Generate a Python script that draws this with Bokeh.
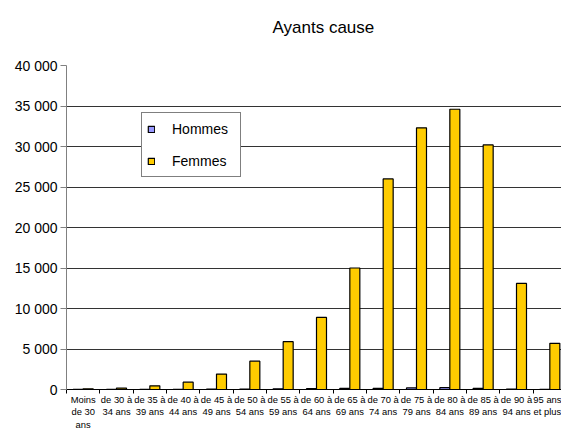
from bokeh.plotting import figure
from bokeh.models import Range1d, FixedTicker, ColumnDataSource, Legend, LegendItem, Title
from bokeh.transform import dodge
from bokeh.embed import file_html
from bokeh.resources import INLINE

title_text = "Ayants cause"
categories = ["Moins\nde 30\nans", "de 30 à\n34 ans", "de 35 à\n39 ans", "de 40 à\n44 ans",
              "de 45 à\n49 ans", "de 50 à\n54 ans", "de 55 à\n59 ans", "de 60 à\n64 ans",
              "de 65 à\n69 ans", "de 70 à\n74 ans", "de 75 à\n79 ans", "de 80 à\n84 ans",
              "de 85 à\n89 ans", "de 90 à\n94 ans", "95 ans\net plus"]
hommes = [5, 10, 15, 25, 40, 60, 80, 100, 130, 150, 200, 220, 150, 60, 20]
femmes = [80, 180, 450, 900, 1900, 3500, 5900, 8900, 15000, 26000, 32300, 34600, 30200, 13100, 5700]
y_ticks = [0, 5000, 10000, 15000, 20000, 25000, 30000, 35000, 40000]
y_tick_labels = ["0", "5 000", "10 000", "15 000", "20 000", "25 000", "30 000", "35 000", "40 000"]
series_names = ["Hommes", "Femmes"]
series_colors = ["#9999FF", "#FFCC00"]

FONT = "Liberation Sans"
n = len(categories)
centers = [i + 0.5 for i in range(n)]
bounds = [float(i) for i in range(n + 1)]

source = ColumnDataSource(dict(x=centers, hommes=hommes, femmes=femmes))

p = figure(width=561, height=432, output_backend="svg", toolbar_location=None,
           x_range=Range1d(0, 14.85), y_range=Range1d(0, 40000),
           min_border_left=66, min_border_right=0, min_border_top=65, min_border_bottom=43)
p.outline_line_color = None
p.background_fill_color = "white"
p.border_fill_color = "white"

# spacer between the title and the plot area
p.add_layout(Title(text=" ", text_font_size="20px", standoff=0), "above")
p.title.text = title_text
p.title.text_font = FONT
p.title.text_font_size = "17px"
p.title.text_font_style = "normal"
p.title.text_color = "black"
p.title.align = "left"
p.title.offset = 206

r_h = p.vbar(x=dodge("x", -0.15, range=p.x_range), top="hommes", width=0.3, source=source,
             fill_color=series_colors[0], line_color="black", line_width=1.2)
r_f = p.vbar(x=dodge("x", 0.15, range=p.x_range), top="femmes", width=0.3, source=source,
             fill_color=series_colors[1], line_color="black", line_width=1.2)

# x axis
p.xaxis.ticker = FixedTicker(ticks=centers, minor_ticks=bounds)
p.xaxis.major_label_overrides = {c: lab for c, lab in zip(centers, categories)}
p.xaxis.major_tick_line_color = None
p.xaxis.minor_tick_line_color = "black"
p.xaxis.minor_tick_in = 0
p.xaxis.minor_tick_out = 4
p.xaxis.axis_line_color = "black"
p.xaxis.major_label_text_font = FONT
p.xaxis.major_label_text_font_size = "9.4px"
p.xaxis.major_label_text_color = "black"
p.xaxis.major_label_text_line_height = 1.15
p.xaxis.major_label_standoff = -2
p.xaxis.major_label_orientation = "horizontal"

# y axis
p.yaxis.ticker = FixedTicker(ticks=y_ticks, minor_ticks=[])
p.yaxis.major_label_overrides = {t: lab for t, lab in zip(y_ticks, y_tick_labels)}
p.yaxis.axis_line_color = "#808080"
p.yaxis.major_tick_line_color = "#808080"
p.yaxis.major_tick_in = 0
p.yaxis.major_tick_out = 6
p.yaxis.minor_tick_line_color = None
p.yaxis.major_label_text_font = FONT
p.yaxis.major_label_text_font_size = "14px"
p.yaxis.major_label_text_color = "black"
p.yaxis.major_label_standoff = 3

p.xgrid.grid_line_color = None
p.ygrid.ticker = FixedTicker(ticks=y_ticks)
p.ygrid.grid_line_color = "#333333"
p.ygrid.grid_line_width = 1

legend = Legend(items=[LegendItem(label=series_names[0], renderers=[r_h]),
                       LegendItem(label=series_names[1], renderers=[r_f])],
                location=(75, 212), orientation="vertical",
                padding=5, spacing=11, label_height=21, label_width=63,
                glyph_width=8, glyph_height=8, label_standoff=17,
                label_text_font=FONT, label_text_font_size="14px", label_text_color="black",
                border_line_color="black", border_line_width=1,
                background_fill_color="white", background_fill_alpha=1.0,
                margin=0)
p.add_layout(legend, "center")

open("out.html", "w").write(file_html(p, INLINE))
